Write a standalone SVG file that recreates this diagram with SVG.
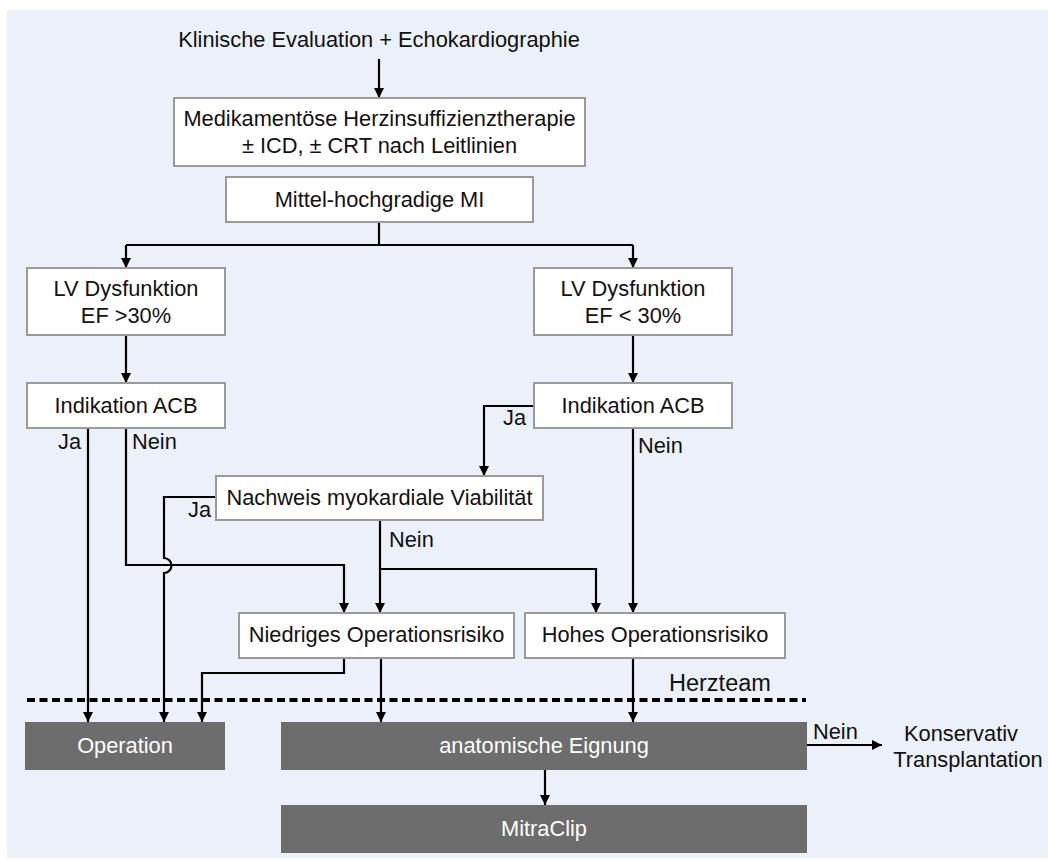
<svg xmlns="http://www.w3.org/2000/svg" width="1048" height="859" viewBox="0 0 1048 859">
<style>
text{font-family:"Liberation Sans",Arial,sans-serif;font-size:21.8px;fill:#111}
.c{text-anchor:middle}
.big{font-size:23.5px}
.box{fill:#fff;stroke:#9a9a9a;stroke-width:2}
.dark{fill:#6d6d6d}
.w{fill:#fff}
.ln{fill:none;stroke:#000;stroke-width:2.2}
.ar{marker-end:url(#ah)}
</style>
<defs>
<marker id="ah" viewBox="0 0 10 10" refX="10" refY="5" markerWidth="10" markerHeight="10" markerUnits="userSpaceOnUse" orient="auto">
<path d="M0,0 L10,5 L0,10 z" fill="#000"/>
</marker>
</defs>
<rect x="0" y="0" width="1048" height="859" fill="#fff"/>
<rect x="7" y="10" width="1041" height="848" fill="#ebf0f9"/>

<g id="connectors">
<path class="ln ar" d="M379,59 V98"/>
<path class="ln" d="M379,222 V245 M126,245 H633"/>
<path class="ln ar" d="M126,245 V268"/>
<path class="ln ar" d="M633,245 V268"/>
<path class="ln ar" d="M126,335 V383"/>
<path class="ln ar" d="M633,335 V383"/>
<path class="ln ar" d="M88,428 V722"/>
<path class="ln ar" d="M126,428 V565 H344 V613"/>
<path class="ln ar" d="M534,406 H484 V476"/>
<path class="ln ar" d="M633,428 V613"/>
<path class="ln ar" d="M216,497 H164 V558 A7.5,7.5 0 0 1 164,573 V722"/>
<path class="ln ar" d="M380,520 V613"/>
<path class="ln ar" d="M380,569 H596 V613"/>
<path class="ln ar" d="M344,658 V673 H202 V722"/>
<path class="ln ar" d="M381,658 V722"/>
<path class="ln ar" d="M633,658 V722"/>
<path class="ln ar" d="M807,745 H882"/>
<path class="ln ar" d="M545,770 V805"/>
<path d="M27,700 H806" fill="none" stroke="#000" stroke-width="4" stroke-dasharray="8 4.5"/>
<text x="58" y="449">Ja</text>
<text x="132" y="449">Nein</text>
<text x="503" y="425">Ja</text>
<text x="638" y="453">Nein</text>
<text x="188" y="517">Ja</text>
<text x="389" y="547">Nein</text>
<text x="813" y="739">Nein</text>
<text class="big" x="669" y="691">Herzteam</text>
</g>

<g id="start"><text class="c" x="379" y="47">Klinische Evaluation + Echokardiographie</text></g>
<g id="therapie">
<rect class="box" x="174" y="98" width="411" height="68"/>
<text class="c" x="379.5" y="126">Medikamentöse Herzinsuffizienztherapie</text>
<text class="c" x="379.5" y="153">± ICD, ± CRT nach Leitlinien</text>
</g>
<g id="mi">
<rect class="box" x="226" y="177" width="307" height="45"/>
<text class="c" x="379.5" y="207">Mittel-hochgradige MI</text>
</g>
<g id="lv-left">
<rect class="box" x="27" y="268" width="198" height="67"/>
<text class="c" x="126" y="296">LV Dysfunktion</text>
<text class="c" x="126" y="323">EF &gt;30%</text>
</g>
<g id="lv-right">
<rect class="box" x="534" y="268" width="198" height="67"/>
<text class="c" x="633" y="296">LV Dysfunktion</text>
<text class="c" x="633" y="323">EF &lt; 30%</text>
</g>
<g id="acb-left">
<rect class="box" x="27" y="383" width="198" height="45"/>
<text class="c" x="126" y="413">Indikation ACB</text>
</g>
<g id="acb-right">
<rect class="box" x="534" y="383" width="198" height="45"/>
<text class="c" x="633" y="413">Indikation ACB</text>
</g>
<g id="viabilitaet">
<rect class="box" x="216" y="476" width="327" height="44"/>
<text class="c" x="379.5" y="505">Nachweis myokardiale Viabilität</text>
</g>
<g id="niedrig">
<rect class="box" x="239" y="613" width="275" height="45"/>
<text class="c" x="376.5" y="642">Niedriges Operationsrisiko</text>
</g>
<g id="hoch">
<rect class="box" x="525" y="613" width="260" height="45"/>
<text class="c" x="655" y="642">Hohes Operationsrisiko</text>
</g>
<g id="operation">
<rect class="dark" x="25" y="722" width="200" height="48"/>
<text class="c w" x="125" y="753">Operation</text>
</g>
<g id="eignung">
<rect class="dark" x="281" y="722" width="526" height="48"/>
<text class="c w" x="544" y="753">anatomische Eignung</text>
</g>
<g id="mitraclip">
<rect class="dark" x="281" y="805" width="526" height="48"/>
<text class="c w" x="544" y="836">MitraClip</text>
</g>
<g id="konservativ">
<text class="c" x="961" y="741">Konservativ</text>
<text class="c" x="968" y="767">Transplantation</text>
</g>
</svg>
